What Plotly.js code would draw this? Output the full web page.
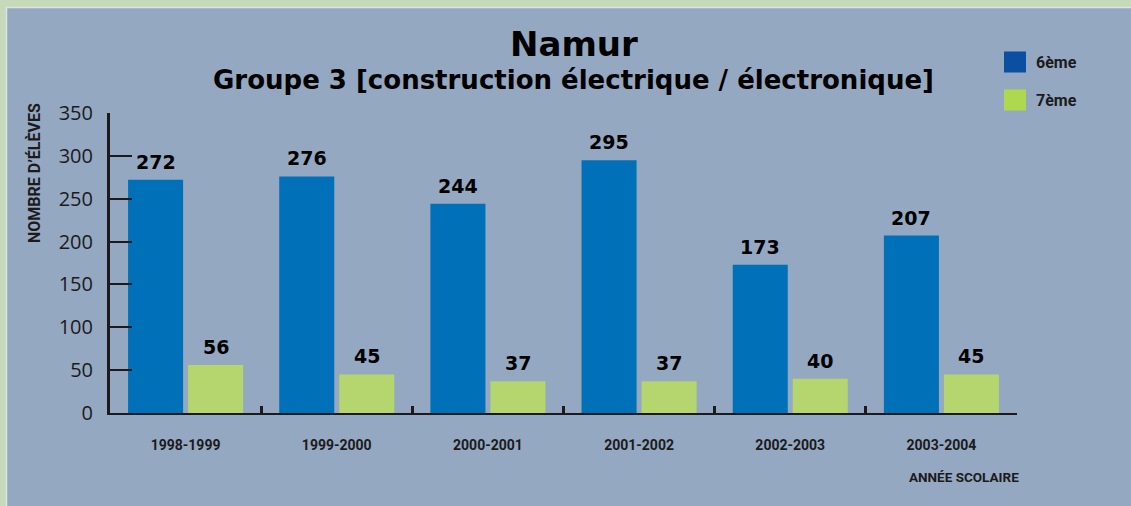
<!DOCTYPE html>
<html>
<head>
<meta charset="utf-8">
<script src="https://cdn.plot.ly/plotly-3.0.1.min.js"></script>
<style>
html,body{margin:0;padding:0;background:#94a8c1;}
#chart{width:1131px;height:506px;}
</style>
</head>
<body>
<div id="chart"></div>
<script>
// ---- data ----
const categories = ["1998-1999","1999-2000","2000-2001","2001-2002","2002-2003","2003-2004"];
const seriesNames = ["6ème","7ème"];
const values6 = [272,276,244,295,173,207];
const values7 = [56,45,37,37,40,45];
const titleText = "Namur";
const subtitleText = "Groupe 3 [construction électrique / électronique]";
const yTitle = "NOMBRE D’ÉLÈVES";
const xTitle = "ANNÉE SCOLAIRE";
const yTicks = [0,50,100,150,200,250,300,350];

// ---- style ----
const W = 1131, H = 506;
const M = {l:110, r:114, t:113, b:93};
const bg = "#94a8c1";
const ink = "#1c1a1b";
const barColors = ["#0070b8","#b5d56f"];
const legendColors = ["#0a4fa0","#aed94e"];
const condensed = "Roboto,'Liberation Sans',sans-serif";
const wide = "'DejaVu Sans',Verdana,sans-serif";
const px = x => (x - M.l) / (W - M.l - M.r);
const py = y => (H - M.b - y) / (H - M.t - M.b);

const traces = [
  {type:"bar", name:seriesNames[0], x:categories, y:values6, marker:{color:barColors[0]}, showlegend:false, hoverinfo:"x+y+name"},
  {type:"bar", name:seriesNames[1], x:categories, y:values7, marker:{color:barColors[1]}, showlegend:false, hoverinfo:"x+y+name"}
];

const annotations = [];
[values6, values7].forEach((vals, s) => {
  vals.forEach((v, i) => {
    annotations.push({
      x: categories[i], y: v, xref:"x", yref:"y",
      xshift: s === 0 ? -30 : 30, yshift: 5,
      yanchor:"bottom", showarrow:false,
      text: String(v),
      font:{family:wide, size:19, color:"#000", weight:700}
    });
  });
});
// titles
annotations.push({xref:"paper", yref:"paper", x:px(574), y:py(44), xanchor:"center", yanchor:"middle",
  showarrow:false, text:titleText, font:{family:wide, size:34, color:"#000", weight:700}});
annotations.push({xref:"paper", yref:"paper", x:px(573), y:py(80), xanchor:"center", yanchor:"middle",
  showarrow:false, text:subtitleText, font:{family:wide, size:26, color:"#000", weight:700}});
// axis titles
annotations.push({xref:"paper", yref:"paper", x:px(34), y:py(173), xanchor:"center", yanchor:"middle",
  showarrow:false, textangle:-90, text:yTitle, font:{family:condensed, size:16, color:ink, weight:700}});
annotations.push({xref:"paper", yref:"paper", x:px(1021), y:py(477), xanchor:"right", yanchor:"middle",
  showarrow:false, text:xTitle, font:{family:condensed, size:13.5, color:ink, weight:700}});
// legend texts
const legY = [62, 100];
seriesNames.forEach((n, s) => {
  annotations.push({xref:"paper", yref:"paper", x:px(1034), y:py(legY[s]), xanchor:"left", yanchor:"middle",
    showarrow:false, text:n, font:{family:condensed, size:16, color:ink, weight:700}});
});

const shapes = [
  // outer frame (top & left light-green band)
  {type:"rect", xref:"paper", yref:"paper", x0:px(0), x1:px(W), y0:py(0), y1:py(7), fillcolor:"#c6d9b8", line:{width:0}, layer:"below"},
  {type:"rect", xref:"paper", yref:"paper", x0:px(0), x1:px(6), y0:py(0), y1:py(H), fillcolor:"#c6d9b8", line:{width:0}, layer:"below"},
  {type:"line", xref:"paper", yref:"paper", x0:px(6), x1:px(W), y0:py(7.5), y1:py(7.5), line:{color:"#dde4e6", width:1.5}, layer:"below"},
  {type:"line", xref:"paper", yref:"paper", x0:px(6.5), x1:px(6.5), y0:py(7), y1:py(H), line:{color:"#dde4e6", width:1.5}, layer:"below"}
];
seriesNames.forEach((n, s) => {
  shapes.push({type:"rect", xref:"paper", yref:"paper", x0:px(1004), x1:px(1026),
    y0:py(legY[s]-10.5), y1:py(legY[s]+10.5), fillcolor:legendColors[s], line:{width:0}});
});

const layout = {
  width:W, height:H,
  margin:M,
  paper_bgcolor:bg, plot_bgcolor:bg,
  barmode:"group", bargap:0.206, bargroupgap:0.083,
  showlegend:false,
  xaxis:{
    type:"category", showgrid:false, zeroline:false,
    showline:true, linecolor:ink, linewidth:2,
    ticks:"inside", tickson:"boundaries", ticklen:7, tickwidth:3, tickcolor:ink,
    ticklabelstandoff:18,
    tickfont:{family:condensed, size:14, color:ink, weight:700}
  },
  yaxis:{
    range:[0,350], tickvals:yTicks, showgrid:false, zeroline:false,
    showline:true, linecolor:ink, linewidth:3,
    ticks:"inside", ticklen:22, tickwidth:2, tickcolor:ink,
    ticklabelstandoff:10,
    tickfont:{family:"'Open Sans','Noto Sans',sans-serif", size:20, color:ink}
  },
  annotations:annotations,
  shapes:shapes
};

Plotly.newPlot("chart", traces, layout, {displayModeBar:false, staticPlot:true});
</script>
</body>
</html>
